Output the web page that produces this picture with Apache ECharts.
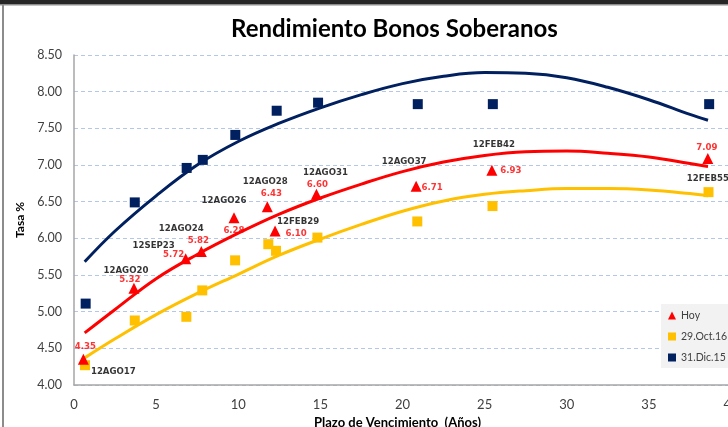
<!DOCTYPE html>
<html>
<head>
<meta charset="utf-8">
<script src="https://cdn.jsdelivr.net/npm/echarts@6/dist/echarts.min.js"></script>
<style>
  html, body { margin: 0; padding: 0; background: #fff; }
  #chart { width: 728px; height: 427px; }
</style>
</head>
<body>
<div id="chart"></div>
<script>
// datos
const bondNames = ["12AGO17", "12AGO20", "12SEP23", "12AGO24", "12AGO26", "12AGO28", "12FEB29", "12AGO31", "12AGO37", "12FEB42", "12FEB55"];
const hoyX = [0.57, 3.65, 6.80, 7.75, 9.74, 11.77, 12.24, 14.76, 20.83, 25.44, 38.59];
const hoyY = [4.35, 5.32, 5.72, 5.82, 6.28, 6.43, 6.10, 6.60, 6.71, 6.93, 7.09];

const oct16X = [0.67, 3.70, 6.84, 7.81, 9.81, 11.83, 12.30, 14.82, 20.90, 25.48, 38.63];
const oct16Y = [4.27, 4.88, 4.93, 5.29, 5.70, 5.92, 5.83, 6.01, 6.23, 6.44, 6.63];

const dic15X = [0.71, 3.70, 6.86, 7.84, 9.82, 12.34, 14.86, 20.93, 25.50, 38.67];
const dic15Y = [5.11, 6.49, 6.96, 7.07, 7.41, 7.74, 7.85, 7.83, 7.83, 7.83];

// lineas de tendencia
const trendX = [0.65, 2.5, 5, 7.5, 10, 12.5, 15, 17.5, 20, 22.5, 25, 27.5, 30, 32.5, 35, 37.5, 38.6];
const trendHoy = [4.71, 5.03, 5.45, 5.78, 6.07, 6.33, 6.55, 6.74, 6.91, 7.04, 7.13, 7.18, 7.19, 7.16, 7.11, 7.02, 6.98];
const trendOct16 = [4.37, 4.63, 4.96, 5.25, 5.51, 5.77, 5.99, 6.19, 6.37, 6.51, 6.60, 6.65, 6.68, 6.68, 6.66, 6.61, 6.58];
const trendDic15 = [5.68, 6.10, 6.58, 7.00, 7.32, 7.57, 7.78, 7.96, 8.11, 8.21, 8.26, 8.25, 8.19, 8.06, 7.89, 7.69, 7.61];

const xTicks = [0, 40, 5];
const yTicks = [4, 8.5, 0.5];

const RED = "#ff0000", YELLOW = "#ffc000", NAVY = "#002060";

// desplazamiento de etiquetas (px) respecto al punto
const nameOffsets = [[30, 12], [-8, -17], [-32, -13], [-20, -23], [-10, -17], [-2, -25], [23, -9], [9, -22], [-12, -25], [2, -25], [0, 20]];
const valueOffsets = [[2, -13], [-4, -8], [-12, -4], [-3, -11], [0, 13], [4, -13], [21, 3], [1, -10], [16, 1], [19, 1], [-1, -11]];

const pairs = (xs, ys) => xs.map((x, i) => [x, ys[i]]);

const labelSeries = (offsets, color, fmt) => ({
  type: "scatter",
  symbolSize: 0,
  silent: true,
  z: 5,
  data: hoyX.map((x, i) => ({
    value: [x, hoyY[i]],
    label: { offset: offsets[i] }
  })),
  label: {
    show: true,
    position: "inside",
    align: "center",
    verticalAlign: "middle",
    color: color,
    fontFamily: "DejaVu Sans",
    fontWeight: "bold",
    fontSize: 8.6,
    formatter: p => fmt(p.dataIndex)
  }
});

const trendSeries = (ys, color) => ({
  type: "line",
  data: pairs(trendX, ys),
  smooth: 0.4,
  showSymbol: false,
  silent: true,
  z: 1,
  lineStyle: { color: color, width: 3 }
});

const pointSeries = (name, symbol, size, color, xs, ys) => ({
  name: name,
  type: "scatter",
  symbol: symbol,
  symbolSize: size,
  z: 3,
  itemStyle: { color: color, opacity: 1 },
  data: pairs(xs, ys)
});

const chart = echarts.init(document.getElementById("chart"));

const option = {
  backgroundColor: "#fff",
  animation: false,
  title: {
    text: "Rendimiento Bonos Soberanos",
    left: 231,
    top: 17,
    padding: 0,
    textStyle: { fontFamily: "Lato", fontWeight: "bold", fontSize: 24, color: "#000" }
  },
  graphic: [
    { type: "rect", shape: { x: 0, y: 0, width: 728, height: 4 }, style: { fill: "#262626" } },
    { type: "rect", shape: { x: 0, y: 4, width: 728, height: 1.5 }, style: { fill: "#8c8c8c" } },
    { type: "rect", shape: { x: 2, y: 4, width: 2, height: 423 }, style: { fill: "#8c8c8c" } }
  ],
  grid: { left: 74, top: 55, right: -3, bottom: 42, outerBoundsMode: "none", containLabel: false },
  legend: {
    data: ["Hoy", "29.Oct.16", "31.Dic.15"],
    orient: "vertical",
    left: 661,
    top: 304,
    padding: [6, 40, 5, 7],
    itemGap: 10,
    itemWidth: 8,
    itemHeight: 8,
    backgroundColor: "#f2f2f2",
    textStyle: { fontFamily: "Lato", fontSize: 10.5, color: "#404040" }
  },
  xAxis: {
    type: "value",
    min: xTicks[0],
    max: xTicks[1],
    interval: xTicks[2],
    name: "Plazo de Vencimiento  (Años)",
    nameLocation: "middle",
    nameGap: 28,
    nameTextStyle: { fontFamily: "Lato", fontWeight: "bold", fontSize: 13, color: "#000", padding: [0, 10, 0, 0] },
    axisLine: { lineStyle: { color: "#a6a6a6", width: 1.5 } },
    axisTick: { show: false },
    axisLabel: { margin: 13, fontFamily: "Lato", fontSize: 13, color: "#404040" },
    splitLine: { show: false }
  },
  yAxis: {
    type: "value",
    min: yTicks[0],
    max: yTicks[1],
    interval: yTicks[2],
    name: "Tasa %",
    nameLocation: "middle",
    nameGap: 30,
    nameTextStyle: { fontFamily: "Lato", fontWeight: "bold", fontSize: 12, color: "#000" },
    axisLine: { show: true, lineStyle: { color: "#a6a6a6", width: 1.5 } },
    axisTick: { show: false },
    axisLabel: { margin: 12, fontFamily: "Lato", fontSize: 12.5, color: "#404040", formatter: v => v.toFixed(2) },
    splitLine: { lineStyle: { color: "#b4c7e7", type: [4, 3], width: 1 } }
  },
  series: [
    trendSeries(trendDic15, NAVY),
    trendSeries(trendOct16, YELLOW),
    trendSeries(trendHoy, RED),
    pointSeries("31.Dic.15", "rect", 10, NAVY, dic15X, dic15Y),
    pointSeries("29.Oct.16", "rect", 10, YELLOW, oct16X, oct16Y),
    pointSeries("Hoy", "triangle", 11, RED, hoyX, hoyY),
    labelSeries(nameOffsets, "#000", i => bondNames[i]),
    labelSeries(valueOffsets, RED, i => hoyY[i].toFixed(2))
  ]
};

chart.setOption(option);
</script>
</body>
</html>
